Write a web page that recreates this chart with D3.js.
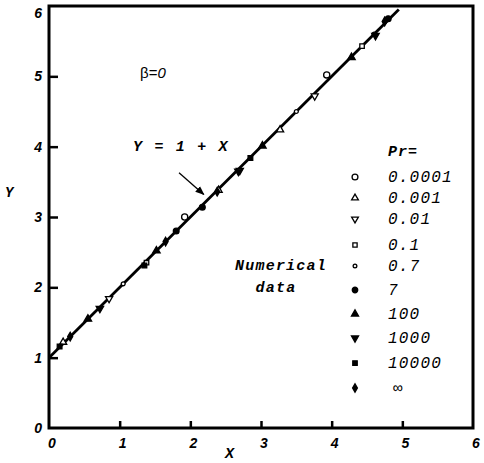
<!DOCTYPE html>
<html>
<head>
<meta charset="utf-8">
<script src="https://d3js.org/d3.v7.min.js"></script>
<style>
  body { margin: 0; background: #fff; }
  svg { display: block; background: #fff; }
  .tick-lab { font-family: "Liberation Sans", Arial, sans-serif; font-weight: bold; font-style: italic; font-size: 14px; }
  .mono { font-family: "Liberation Mono", "Courier New", monospace; font-style: italic; }
</style>
</head>
<body>
<svg id="chart" width="484" height="463"></svg>
<script>
// axis ticks
var xTicks = [0, 1, 2, 3, 4, 5, 6];
var yTicks = [0, 1, 2, 3, 4, 5, 6];

// legend entries (Pr values)
var prLabels = ["0.0001", "0.001", "0.01", "0.1", "0.7", "7", "100", "1000", "10000", "\u221e"];

// numerical data, one array per Pr, [X, Y]
var pr0001 = [[1.92, 3.00], [3.93, 5.02]];
var pr001 = [[2.40, 3.38], [3.27, 4.24], [0.20, 1.22]];
var pr01 = [[0.85, 1.84], [3.76, 4.72], [2.70, 3.66]];
var pr1 = [[1.38, 2.35], [4.43, 5.43]];
var pr07 = [[1.05, 2.05], [3.50, 4.50], [4.60, 5.60]];
var pr7 = [[1.80, 2.80], [2.17, 3.14], [4.80, 5.82]];
var pr100 = [[0.55, 1.55], [3.02, 4.01], [4.28, 5.27], [1.52, 2.52]];
var pr1000 = [[0.72, 1.70], [2.68, 3.65], [4.62, 5.58]];
var pr10000 = [[1.35, 2.31], [0.15, 1.16], [2.85, 3.84]];
var prInf = [[0.30, 1.30], [1.65, 2.65], [4.75, 5.78], [2.38, 3.36]];

var series = [pr0001, pr001, pr01, pr1, pr07, pr7, pr100, pr1000, pr10000, prInf];
var symTypes = [d3.symbolCircle, d3.symbolTriangle, d3.symbolTriangle, d3.symbolSquare, d3.symbolCircle,
                d3.symbolCircle, d3.symbolTriangle, d3.symbolTriangle, d3.symbolSquare, d3.symbolDiamond];
var symFilled = [false, false, false, false, false, true, true, true, true, true];
var symFlip = [false, false, true, false, false, false, false, true, false, false];
var symSize = [30, 22, 22, 20, 12, 26, 24, 24, 22, 22];

var svg = d3.select("#chart");
var x = d3.scaleLinear().domain([0, 6]).range([49, 473]);
var y = d3.scaleLinear().domain([0, 6]).range([428, 6]);

// frame
svg.append("rect")
  .attr("x", x(0)).attr("y", y(6))
  .attr("width", x(6) - x(0)).attr("height", y(0) - y(6))
  .attr("fill", "none").attr("stroke", "#000").attr("stroke-width", 3);

// axes with inward ticks
var xAxis = svg.append("g").attr("transform", "translate(0," + y(0) + ")")
  .call(d3.axisTop(x).tickValues(xTicks.slice(1, 6)).tickSize(7).tickFormat(""));
var yAxis = svg.append("g").attr("transform", "translate(" + x(0) + ",0)")
  .call(d3.axisRight(y).tickValues(yTicks.slice(1, 6)).tickSize(9).tickFormat(""));
[xAxis, yAxis].forEach(function (g) {
  g.select(".domain").remove();
  g.selectAll(".tick line").attr("stroke", "#000").attr("stroke-width", 2.5);
});

// tick labels
svg.selectAll(".xlab").data(xTicks).enter().append("text")
  .attr("class", "tick-lab")
  .attr("x", function (d) { return x(d) + 3; })
  .attr("y", 448)
  .attr("text-anchor", "middle")
  .text(function (d) { return d; });
svg.selectAll(".ylab").data(yTicks).enter().append("text")
  .attr("class", "tick-lab")
  .attr("x", 42)
  .attr("y", function (d) { return Math.max(y(d) + 5, 18); })
  .attr("text-anchor", "end")
  .text(function (d) { return d; });

// axis titles
svg.append("text").attr("class", "mono").attr("font-weight", "bold").attr("font-size", 14)
  .attr("x", 5).attr("y", 197).text("Y");
svg.append("text").attr("class", "mono").attr("font-weight", "bold").attr("font-size", 15)
  .attr("x", 225).attr("y", 458).text("X");

// Y = 1 + X
var line = d3.line().x(function (d) { return x(d[0]); }).y(function (d) { return y(d[1]); });
svg.append("path")
  .datum([[0, 1], [4.95, 5.95]])
  .attr("d", line)
  .attr("fill", "none").attr("stroke", "#000").attr("stroke-width", 2.8);

// markers
series.forEach(function (pts, i) {
  var sym = d3.symbol().type(symTypes[i]).size(symSize[i]);
  svg.append("g").selectAll("path").data(pts).enter().append("path")
    .attr("d", sym)
    .attr("transform", function (d) {
      return "translate(" + x(d[0]) + "," + y(d[1]) + ")" + (symFlip[i] ? " rotate(180)" : "");
    })
    .attr("fill", symFilled[i] ? "#000" : "#fff")
    .attr("stroke", "#000").attr("stroke-width", 1.3);
});

// annotations
svg.append("text").attr("font-family", "Liberation Sans, Arial, sans-serif").attr("font-size", 15)
  .attr("x", 140).attr("y", 78)
  .call(function (t) { t.append("tspan").text("\u03b2="); t.append("tspan").attr("font-style", "italic").text("0"); });

svg.append("text").attr("class", "mono").attr("font-weight", "bold").attr("font-size", 15)
  .attr("x", 133).attr("y", 151).attr("letter-spacing", 1.7).text("Y = 1 + X");

svg.append("defs").append("marker")
  .attr("id", "arrow").attr("viewBox", "0 0 10 10")
  .attr("refX", 9).attr("refY", 5)
  .attr("markerWidth", 7).attr("markerHeight", 7)
  .attr("orient", "auto")
  .append("path").attr("d", "M0,1 L10,5 L0,9 Z").attr("fill", "#000");
svg.append("path")
  .datum([[1.84, 3.63], [2.19, 3.32]])
  .attr("d", line)
  .attr("stroke", "#000").attr("stroke-width", 1.3)
  .attr("marker-end", "url(#arrow)");

svg.append("text").attr("class", "mono").attr("font-weight", "bold").attr("font-size", 15)
  .attr("x", 281).attr("y", 270).attr("text-anchor", "middle").attr("letter-spacing", 1.2).text("Numerical");
svg.append("text").attr("class", "mono").attr("font-weight", "bold").attr("font-size", 15)
  .attr("x", 276).attr("y", 292).attr("text-anchor", "middle").attr("letter-spacing", 1.2).text("data");

// legend
svg.append("text").attr("class", "mono").attr("font-weight", "bold").attr("font-size", 15)
  .attr("x", 388).attr("y", 156).attr("letter-spacing", 1).text("Pr=");
var legY = [177, 198, 219, 245, 266, 290, 314, 338, 363, 388];
prLabels.forEach(function (lab, i) {
  var sym = d3.symbol().type(symTypes[i]).size(symSize[i] * 0.9);
  svg.append("path").attr("d", sym)
    .attr("transform", "translate(355," + legY[i] + ")" + (symFlip[i] ? " rotate(180)" : ""))
    .attr("fill", symFilled[i] ? "#000" : "#fff")
    .attr("stroke", "#000").attr("stroke-width", 1.3);
  svg.append("text").attr("class", "mono").attr("font-size", 16)
    .attr("x", i === 9 ? 393 : 388).attr("y", legY[i] + 5)
    .attr("letter-spacing", 1.2)
    .text(lab);
});
</script>
</body>
</html>
